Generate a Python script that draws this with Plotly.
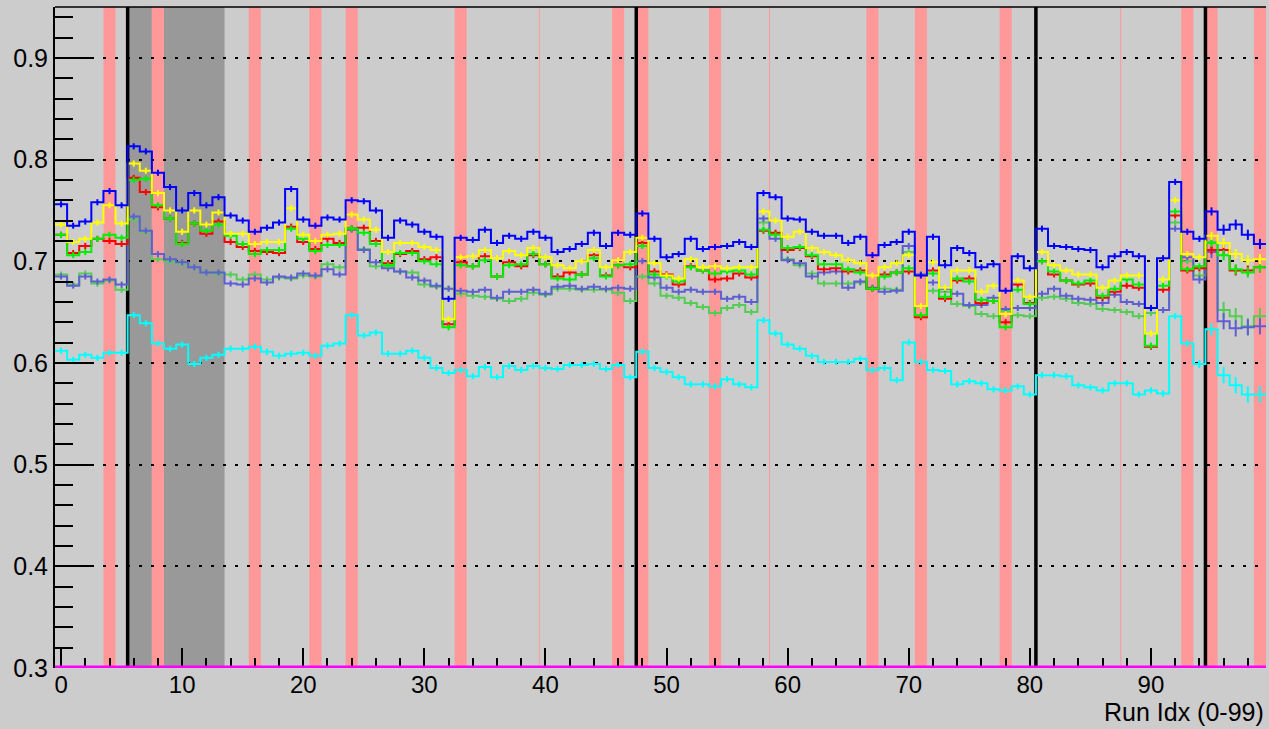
import plotly.graph_objects as go

RUNS = list(range(100))

BLUE = [
    0.756, 0.735, 0.739, 0.758, 0.769, 0.755, 0.813, 0.808, 0.787, 0.773,
    0.750, 0.767, 0.755, 0.763, 0.745, 0.740, 0.729, 0.733, 0.738, 0.771,
    0.741, 0.735, 0.743, 0.741, 0.760, 0.759, 0.750, 0.723, 0.740, 0.736,
    0.729, 0.724, 0.663, 0.723, 0.721, 0.731, 0.718, 0.725, 0.722, 0.729,
    0.723, 0.709, 0.712, 0.717, 0.728, 0.715, 0.728, 0.726, 0.747, 0.722,
    0.704, 0.707, 0.722, 0.712, 0.714, 0.715, 0.719, 0.714, 0.767, 0.763,
    0.742, 0.741, 0.729, 0.725, 0.725, 0.718, 0.724, 0.706, 0.716, 0.719,
    0.729, 0.686, 0.724, 0.696, 0.713, 0.708, 0.694, 0.697, 0.671, 0.705,
    0.693, 0.732, 0.715, 0.714, 0.712, 0.711, 0.694, 0.705, 0.709, 0.705,
    0.654, 0.703, 0.778, 0.729, 0.722, 0.749, 0.731, 0.736, 0.726, 0.717,
]
YELLOW = [
    0.736, 0.719, 0.722, 0.738, 0.755, 0.737, 0.796, 0.789, 0.767, 0.750,
    0.729, 0.750, 0.736, 0.748, 0.727, 0.727, 0.717, 0.719, 0.719, 0.752,
    0.726, 0.720, 0.726, 0.727, 0.746, 0.741, 0.731, 0.709, 0.718, 0.718,
    0.714, 0.711, 0.643, 0.704, 0.705, 0.711, 0.703, 0.710, 0.706, 0.713,
    0.704, 0.696, 0.693, 0.700, 0.711, 0.694, 0.701, 0.709, 0.723, 0.698,
    0.686, 0.683, 0.702, 0.694, 0.695, 0.693, 0.694, 0.694, 0.749, 0.740,
    0.724, 0.729, 0.713, 0.709, 0.706, 0.701, 0.698, 0.686, 0.694, 0.698,
    0.706, 0.656, 0.699, 0.674, 0.691, 0.691, 0.670, 0.676, 0.648, 0.681,
    0.665, 0.709, 0.696, 0.691, 0.687, 0.687, 0.674, 0.681, 0.686, 0.686,
    0.629, 0.682, 0.760, 0.707, 0.704, 0.725, 0.718, 0.707, 0.701, 0.702,
]
RED = [
    0.726, 0.708, 0.715, 0.722, 0.720, 0.717, 0.782, 0.768, 0.753, 0.742,
    0.718, 0.737, 0.727, 0.739, 0.719, 0.714, 0.710, 0.709, 0.708, 0.734,
    0.719, 0.712, 0.722, 0.718, 0.732, 0.733, 0.720, 0.698, 0.707, 0.710,
    0.702, 0.704, 0.638, 0.699, 0.695, 0.705, 0.685, 0.699, 0.695, 0.706,
    0.697, 0.685, 0.689, 0.687, 0.706, 0.686, 0.696, 0.694, 0.718, 0.690,
    0.687, 0.677, 0.695, 0.691, 0.682, 0.683, 0.688, 0.684, 0.730, 0.728,
    0.711, 0.713, 0.705, 0.692, 0.693, 0.690, 0.691, 0.673, 0.687, 0.689,
    0.690, 0.645, 0.691, 0.663, 0.681, 0.683, 0.659, 0.661, 0.640, 0.677,
    0.659, 0.700, 0.687, 0.681, 0.677, 0.678, 0.664, 0.670, 0.676, 0.674,
    0.616, 0.672, 0.745, 0.691, 0.693, 0.711, 0.711, 0.691, 0.691, 0.694,
]
GREEN = [
    0.726, 0.706, 0.709, 0.722, 0.726, 0.723, 0.780, 0.781, 0.755, 0.742,
    0.717, 0.737, 0.730, 0.736, 0.725, 0.717, 0.707, 0.711, 0.711, 0.732,
    0.722, 0.710, 0.716, 0.716, 0.732, 0.728, 0.717, 0.696, 0.708, 0.708,
    0.700, 0.697, 0.635, 0.696, 0.695, 0.701, 0.685, 0.696, 0.697, 0.707,
    0.697, 0.683, 0.682, 0.687, 0.703, 0.685, 0.696, 0.697, 0.715, 0.687,
    0.685, 0.680, 0.694, 0.691, 0.688, 0.690, 0.691, 0.687, 0.731, 0.726,
    0.713, 0.714, 0.706, 0.697, 0.697, 0.692, 0.689, 0.673, 0.685, 0.689,
    0.693, 0.647, 0.688, 0.665, 0.683, 0.680, 0.662, 0.661, 0.635, 0.672,
    0.658, 0.700, 0.690, 0.681, 0.678, 0.681, 0.666, 0.673, 0.682, 0.677,
    0.617, 0.676, 0.749, 0.692, 0.695, 0.718, 0.706, 0.692, 0.689, 0.694,
]
LIGHT_GREEN = [
    0.687, 0.677, 0.688, 0.678, 0.681, 0.672, 0.741, 0.729, 0.702, 0.700,
    0.698, 0.694, 0.689, 0.688, 0.687, 0.682, 0.687, 0.682, 0.684, 0.683,
    0.686, 0.685, 0.697, 0.694, 0.733, 0.712, 0.695, 0.695, 0.690, 0.689,
    0.677, 0.675, 0.673, 0.668, 0.666, 0.665, 0.663, 0.661, 0.663, 0.669,
    0.667, 0.673, 0.673, 0.672, 0.672, 0.672, 0.669, 0.661, 0.685, 0.678,
    0.666, 0.664, 0.659, 0.655, 0.649, 0.654, 0.657, 0.650, 0.738, 0.727,
    0.702, 0.696, 0.688, 0.678, 0.678, 0.678, 0.679, 0.673, 0.673, 0.672,
    0.709, 0.687, 0.671, 0.670, 0.658, 0.656, 0.648, 0.646, 0.651, 0.647,
    0.646, 0.664, 0.665, 0.663, 0.659, 0.658, 0.653, 0.652, 0.650, 0.646,
    0.649, 0.652, 0.738, 0.700, 0.686, 0.719, 0.652, 0.646, 0.636, 0.646,
]
SLATE = [
    0.685, 0.676, 0.685, 0.680, 0.682, 0.677, 0.744, 0.730, 0.707, 0.702,
    0.699, 0.694, 0.689, 0.689, 0.678, 0.677, 0.683, 0.679, 0.685, 0.684,
    0.688, 0.686, 0.692, 0.687, 0.731, 0.711, 0.699, 0.693, 0.690, 0.684,
    0.681, 0.676, 0.673, 0.671, 0.670, 0.672, 0.664, 0.670, 0.670, 0.672,
    0.668, 0.675, 0.676, 0.673, 0.675, 0.673, 0.674, 0.673, 0.700, 0.684,
    0.674, 0.670, 0.672, 0.670, 0.670, 0.663, 0.665, 0.660, 0.742, 0.722,
    0.701, 0.698, 0.685, 0.689, 0.690, 0.674, 0.680, 0.674, 0.670, 0.671,
    0.715, 0.687, 0.679, 0.673, 0.668, 0.657, 0.657, 0.664, 0.653, 0.654,
    0.654, 0.668, 0.673, 0.666, 0.663, 0.662, 0.659, 0.667, 0.660, 0.658,
    0.654, 0.652, 0.732, 0.704, 0.682, 0.709, 0.641, 0.634, 0.635, 0.636,
]
CYAN = [
    0.612, 0.603, 0.608, 0.605, 0.610, 0.610, 0.647, 0.639, 0.619, 0.614,
    0.618, 0.599, 0.605, 0.608, 0.614, 0.614, 0.616, 0.611, 0.607, 0.609,
    0.610, 0.607, 0.617, 0.619, 0.647, 0.627, 0.630, 0.609, 0.609, 0.612,
    0.605, 0.595, 0.590, 0.593, 0.587, 0.596, 0.586, 0.597, 0.593, 0.597,
    0.595, 0.594, 0.598, 0.598, 0.599, 0.594, 0.598, 0.586, 0.611, 0.595,
    0.591, 0.586, 0.579, 0.579, 0.577, 0.584, 0.579, 0.576, 0.642, 0.629,
    0.618, 0.614, 0.607, 0.601, 0.601, 0.601, 0.604, 0.593, 0.595, 0.583,
    0.620, 0.601, 0.593, 0.592, 0.579, 0.582, 0.580, 0.574, 0.573, 0.577,
    0.569, 0.588, 0.588, 0.587, 0.578, 0.576, 0.573, 0.580, 0.580, 0.569,
    0.573, 0.570, 0.646, 0.619, 0.599, 0.633, 0.588, 0.578, 0.569, 0.569,
]

# statistical errors (bigger for the last few runs)
ERR_MAIN = [
    0.003, 0.003, 0.003, 0.003, 0.003, 0.003, 0.003, 0.003, 0.003, 0.003,
    0.003, 0.003, 0.003, 0.003, 0.003, 0.003, 0.003, 0.003, 0.003, 0.003,
    0.003, 0.003, 0.003, 0.003, 0.003, 0.003, 0.003, 0.003, 0.003, 0.003,
    0.003, 0.003, 0.003, 0.003, 0.003, 0.003, 0.003, 0.003, 0.003, 0.003,
    0.003, 0.003, 0.003, 0.003, 0.003, 0.003, 0.003, 0.003, 0.003, 0.003,
    0.003, 0.003, 0.003, 0.003, 0.003, 0.003, 0.003, 0.003, 0.003, 0.003,
    0.003, 0.003, 0.003, 0.003, 0.003, 0.003, 0.003, 0.003, 0.003, 0.003,
    0.003, 0.003, 0.003, 0.003, 0.003, 0.003, 0.003, 0.003, 0.003, 0.003,
    0.003, 0.003, 0.003, 0.003, 0.003, 0.003, 0.003, 0.003, 0.003, 0.003,
    0.003, 0.003, 0.003, 0.003, 0.003, 0.004, 0.005, 0.005, 0.005, 0.005,
]
ERR_SIDE = [
    0.003, 0.003, 0.003, 0.003, 0.003, 0.003, 0.003, 0.003, 0.003, 0.003,
    0.003, 0.003, 0.003, 0.003, 0.003, 0.003, 0.003, 0.003, 0.003, 0.003,
    0.003, 0.003, 0.003, 0.003, 0.003, 0.003, 0.003, 0.003, 0.003, 0.003,
    0.003, 0.003, 0.003, 0.003, 0.003, 0.003, 0.003, 0.003, 0.003, 0.003,
    0.003, 0.003, 0.003, 0.003, 0.003, 0.003, 0.003, 0.003, 0.003, 0.003,
    0.003, 0.003, 0.003, 0.003, 0.003, 0.003, 0.003, 0.003, 0.003, 0.003,
    0.003, 0.003, 0.003, 0.003, 0.003, 0.003, 0.003, 0.003, 0.003, 0.003,
    0.003, 0.003, 0.003, 0.003, 0.003, 0.003, 0.003, 0.003, 0.003, 0.003,
    0.003, 0.003, 0.003, 0.003, 0.003, 0.003, 0.003, 0.003, 0.003, 0.003,
    0.003, 0.003, 0.003, 0.003, 0.004, 0.006, 0.008, 0.008, 0.008, 0.008,
]

# flagged runs
PINK_RUNS = [4, 8, 16, 21, 24, 33, 46, 48, 54, 67, 71, 78, 93, 95, 99]
GREY_RUNS = [6, 7, 9, 10, 11, 12, 13]
BLACK_EDGES = [5.5, 47.5, 80.5, 94.5]
THIN_EDGES = [39.5, 58.5, 87.5]

X_TITLE = "Run Idx (0-99)"

BG = "#cccccc"
FONT = "Liberation Sans, Arial, Helvetica, sans-serif"


def _step_xy(values):
    # histogram outline: each bin drawn flat across its full width
    xs = [r - 0.5 for r in RUNS] + [RUNS[-1] + 0.5]
    ys = list(values) + [values[-1]]
    return xs, ys


def _runs_to_spans(runs):
    # merge neighbouring runs so adjacent bands have no seams
    spans = []
    for r in sorted(runs):
        if spans and spans[-1][1] == r - 1:
            spans[-1][1] = r
        else:
            spans.append([r, r])
    return spans


def _add_hist(fig, values, color, errors):
    xs, ys = _step_xy(values)
    fig.add_trace(go.Scatter(
        x=xs, y=ys, mode="lines", line=dict(color=color, width=2, shape="hv"),
        hoverinfo="skip",
    ))
    fig.add_trace(go.Scatter(
        x=RUNS, y=values, mode="markers",
        marker=dict(size=2, color=color),
        error_y=dict(type="data", array=errors, width=0, thickness=2, color=color),
    ))


def _bands(runs, color):
    return [dict(type="rect", xref="x", yref="paper", x0=a - 0.5, x1=b + 0.5,
                 y0=0, y1=1, fillcolor=color, line_width=0, layer="between")
            for a, b in _runs_to_spans(runs)]


def _vline(edge, color, width):
    return dict(type="line", xref="x", yref="paper", x0=edge, x1=edge, y0=0, y1=1,
                line=dict(color=color, width=width), layer="between")


fig = go.Figure()

series = [
    (CYAN, "#00ffff", ERR_SIDE),
    (LIGHT_GREEN, "#55cc55", ERR_SIDE),
    (SLATE, "#5f5fd2", ERR_SIDE),
    (RED, "#ff0000", ERR_MAIN),
    (GREEN, "#00ee00", ERR_MAIN),
    (YELLOW, "#ffff00", ERR_MAIN),
    (BLUE, "#0000ff", ERR_MAIN),
]
for values, color, errors in series:
    _add_hist(fig, values, color, errors)

shapes = _bands(GREY_RUNS, "#999999") + _bands(PINK_RUNS, "#ff9999")
shapes += [_vline(e, "#ff9999", 1) for e in THIN_EDGES]
shapes += [_vline(e, "black", 3.5) for e in BLACK_EDGES]
# frame top and the magenta baseline
shapes.append(dict(type="line", xref="paper", yref="paper", x0=0, x1=1, y0=1, y1=1,
                   line=dict(color="black", width=1.5), layer="between"))
shapes.append(dict(type="line", xref="paper", yref="y", x0=0, x1=1, y0=0.3, y1=0.3,
                   line=dict(color="#ff00ff", width=5), layer="above"))

fig.update_layout(
    width=1269,
    height=729,
    paper_bgcolor=BG,
    plot_bgcolor=BG,
    margin=dict(l=55, r=3, t=7, b=61),
    showlegend=False,
    font=dict(family=FONT, color="black"),
    shapes=shapes,
    xaxis=dict(
        range=[-0.5, 99.5],
        tick0=0,
        dtick=10,
        ticks="inside",
        ticklen=20,
        tickwidth=1.5,
        tickcolor="black",
        tickfont=dict(size=24),
        showgrid=False,
        zeroline=False,
        showline=False,
        minor=dict(ticks="inside", dtick=2, ticklen=10, tickwidth=1.5, tickcolor="black"),
    ),
    yaxis=dict(
        range=[0.3, 0.95],
        tick0=0.3,
        dtick=0.1,
        tickformat=".1f",
        ticks="inside",
        ticklen=36,
        tickwidth=2,
        tickcolor="black",
        tickfont=dict(size=25),
        showgrid=True,
        gridcolor="black",
        gridwidth=2,
        griddash="3px,9px",
        zeroline=False,
        showline=True,
        linecolor="black",
        linewidth=2,
        minor=dict(ticks="inside", dtick=0.02, ticklen=18, tickwidth=2, tickcolor="black",
                   showgrid=False),
    ),
    annotations=[dict(
        text=X_TITLE, xref="paper", yref="paper", x=1, y=0,
        xanchor="right", yanchor="top", yshift=-28, showarrow=False,
        font=dict(size=25, family=FONT),
    )],
)

fig.write_html(
    "out.html",
    config={"displayModeBar": False},
    post_script="document.body.style.margin = '0';",
)
